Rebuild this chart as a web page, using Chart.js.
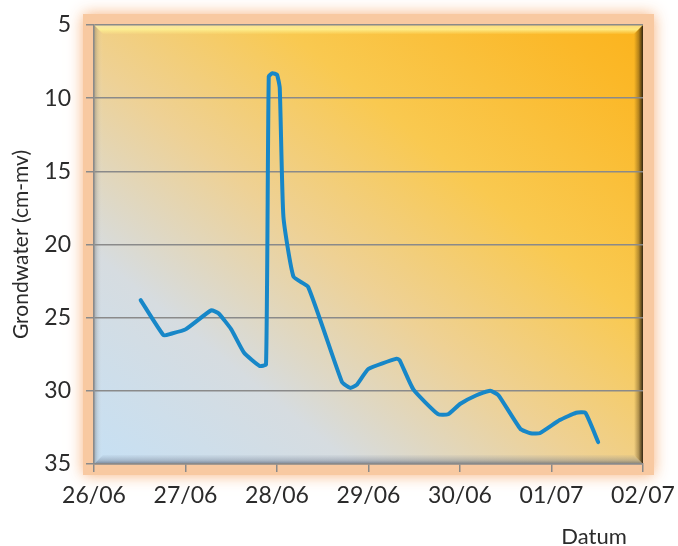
<!DOCTYPE html>
<html>
<head>
<meta charset="utf-8">
<script src="https://cdn.jsdelivr.net/npm/chart.js@4/dist/chart.umd.min.js"></script>
<style>
html,body{margin:0;padding:0;background:#fff;}
#wrap{width:678px;height:546px;}
</style>
</head>
<body>
<div id="wrap"><canvas id="c" width="678" height="546"></canvas></div>
<script>
const tickLabels = ['26/06','27/06','28/06','29/06','30/06','01/07','02/07'];
const yTicks = [5,10,15,20,25,30,35];
// days since 26/06 00:00
const dayOffset = [0.51,0.76,0.84,1.0,1.28,1.36,1.5,1.64,1.81,1.88,1.91,1.95,2.0,2.03,2.07,2.18,2.34,2.71,2.80,2.87,3.0,3.31,3.34,3.49,3.76,3.87,4.0,4.18,4.33,4.42,4.66,4.77,4.87,5.09,5.27,5.37,5.51];
const grondwater = [23.8,26.2,26.1,25.8,24.5,24.7,25.8,27.4,28.3,28.2,8.5,8.3,8.4,9.3,18.1,22.2,22.9,29.4,29.8,29.6,28.5,27.8,27.9,29.9,31.6,31.6,30.9,30.3,30.0,30.3,32.6,32.9,32.9,32.0,31.5,31.5,33.5];
const xTitle = 'Datum';
const yTitle = 'Grondwater (cm-mv)';

const FONT = 'Lato, "Open Sans", sans-serif';

const bgPlugin = {
  id: 'bg',
  beforeDraw(chart) {
    const ctx = chart.ctx;
    const {left, top, right, bottom} = chart.chartArea;
    const w = right - left, h = bottom - top;
    ctx.save();
    // glow
    ctx.shadowColor = 'rgba(246,170,110,0.9)';
    ctx.shadowBlur = 14;
    ctx.fillStyle = '#f8c9a1';
    ctx.fillRect(left - 11, top - 11, w + 22, h + 22);
    ctx.restore();
    ctx.save();
    // gradient fill
    const g = ctx.createLinearGradient(left + w * 0.1, bottom + h * 0.1, right - w * 0.05, top - h * 0.2);
    g.addColorStop(0, '#c6e0f4');
    g.addColorStop(0.22, '#d6dce0');
    g.addColorStop(0.42, '#eed195');
    g.addColorStop(0.62, '#f9c950');
    g.addColorStop(0.85, '#fbb828');
    g.addColorStop(1, '#fbb014');
    ctx.fillStyle = g;
    ctx.fillRect(left, top, w, h);
    // bevel: top
    const b = 9;
    const gt = ctx.createLinearGradient(0, top, 0, top + b);
    gt.addColorStop(0, 'rgba(255,250,200,0.5)');
    gt.addColorStop(0.5, 'rgba(255,245,150,0.8)');
    gt.addColorStop(1, 'rgba(255,240,140,0.1)');
    ctx.fillStyle = gt;
    ctx.beginPath();
    ctx.moveTo(left, top); ctx.lineTo(right, top); ctx.lineTo(right - b, top + b); ctx.lineTo(left + b, top + b); ctx.closePath();
    ctx.fill();
    // bottom
    const gb = ctx.createLinearGradient(0, bottom - b, 0, bottom);
    gb.addColorStop(0, 'rgba(120,130,150,0.05)');
    gb.addColorStop(0.6, 'rgba(100,110,130,0.35)');
    gb.addColorStop(1, 'rgba(70,80,100,0.65)');
    ctx.fillStyle = gb;
    ctx.beginPath();
    ctx.moveTo(left, bottom); ctx.lineTo(right, bottom); ctx.lineTo(right - b, bottom - b); ctx.lineTo(left + b, bottom - b); ctx.closePath();
    ctx.fill();
    // left
    const gl = ctx.createLinearGradient(left, 0, left + b, 0);
    gl.addColorStop(0, 'rgba(100,100,100,0.45)');
    gl.addColorStop(0.4, 'rgba(130,130,130,0.15)');
    gl.addColorStop(1, 'rgba(255,255,255,0.0)');
    ctx.fillStyle = gl;
    ctx.beginPath();
    ctx.moveTo(left, top); ctx.lineTo(left + b, top + b); ctx.lineTo(left + b, bottom - b); ctx.lineTo(left, bottom); ctx.closePath();
    ctx.fill();
    // right
    const gr = ctx.createLinearGradient(right - b, 0, right, 0);
    gr.addColorStop(0, 'rgba(60,40,10,0.0)');
    gr.addColorStop(0.5, 'rgba(60,40,10,0.35)');
    gr.addColorStop(1, 'rgba(40,30,15,0.95)');
    ctx.fillStyle = gr;
    ctx.beginPath();
    ctx.moveTo(right, top); ctx.lineTo(right - b, top + b); ctx.lineTo(right - b, bottom - b); ctx.lineTo(right, bottom); ctx.closePath();
    ctx.fill();
    ctx.restore();
  },
  afterDraw(chart) {
    const ctx = chart.ctx;
    ctx.save();
    ctx.font = '22px ' + FONT;
    ctx.fillStyle = '#2b2b2b';
    ctx.textAlign = 'center';
    ctx.textBaseline = 'middle';
    ctx.fillText(xTitle, 594, 537);
    ctx.restore();
  }
};

new Chart(document.getElementById('c'), {
  type: 'line',
  data: {
    datasets: [{
      data: dayOffset.map((x, i) => ({x: x, y: grondwater[i]})),
      borderColor: '#1787c8',
      borderWidth: 4,
      pointRadius: 0,
      tension: 0.15,
      borderJoinStyle: 'round',
      borderCapStyle: 'round',
      fill: false
    }]
  },
  options: {
    responsive: false,
    animation: false,
    devicePixelRatio: 1,
    layout: {padding: {left: 0, top: 25, right: 35, bottom: 0}},
    plugins: {legend: {display: false}, tooltip: {enabled: false}},
    scales: {
      x: {
        type: 'linear',
        min: 0, max: 6,
        afterFit(s) { s.height = 82; s.paddingLeft = 0; s.paddingRight = 0; },
        afterBuildTicks(s) { s.ticks = tickLabels.map((_, i) => ({value: i})); },
        ticks: {
          callback: (v) => tickLabels[v],
          font: {family: FONT, size: 23},
          color: '#2b2b2b',
          padding: 10,
          maxRotation: 0,
          autoSkip: false
        },
        grid: {drawOnChartArea: false, drawTicks: true, tickLength: 8, color: '#8a8a8a', lineWidth: 1.5},
        border: {color: '#8a8a8a', width: 1.5}
      },
      y: {
        type: 'linear',
        reverse: true,
        min: 5, max: 35,
        afterFit(s) { s.width = 94; s.paddingTop = 0; s.paddingBottom = 0; },
        afterBuildTicks(s) { s.ticks = yTicks.map(v => ({value: v})); },
        ticks: {
          font: {family: FONT, size: 23},
          color: '#2b2b2b',
          padding: 15
        },
        grid: {color: '#8a8a8a', lineWidth: 1.5, tickLength: 8},
        border: {color: '#8a8a8a', width: 1.5},
        title: {
          display: true,
          text: yTitle,
          font: {family: FONT, size: 21},
          color: '#2b2b2b',
          padding: {top: 9, bottom: 0}
        }
      }
    }
  },
  plugins: [bgPlugin]
});
</script>
</body>
</html>
